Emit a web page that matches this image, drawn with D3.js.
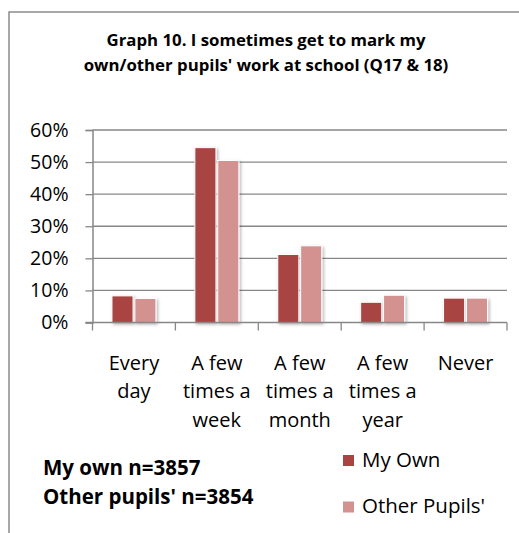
<!DOCTYPE html>
<html>
<head>
<meta charset="utf-8">
<script src="https://cdn.jsdelivr.net/npm/d3@7/dist/d3.min.js"></script>
<style>
  html, body { margin: 0; padding: 0; background: #fff; }
  svg { display: block; }
  text { font-family: "Open Sans", "Liberation Sans", sans-serif; fill: #000; }
</style>
</head>
<body>
<script>
// Survey responses: how often pupils mark their own / other pupils' work
const categories = [
  ["Every", "day"],
  ["A few", "times a", "week"],
  ["A few", "times a", "month"],
  ["A few", "times a", "year"],
  ["Never"]
];
const seriesNames = ["My Own", "Other Pupils'"];
const myOwn = [0.083, 0.545, 0.212, 0.063, 0.076];
const otherPupils = [0.075, 0.505, 0.239, 0.085, 0.076];
const yTicks = [0, 0.1, 0.2, 0.3, 0.4, 0.5, 0.6];
const titleLines = ["Graph 10. I sometimes get to mark my", "own/other pupils' work at school (Q17 & 18)"];
const notes = ["My own n=3857", "Other pupils' n=3854"];
const colors = ["#a84442", "#d39190"];

const W = 519, H = 533;
const plot = { left: 92.5, right: 507, top: 130, bottom: 322.5 };

const svg = d3.select("body").append("svg").attr("width", W).attr("height", H);

// soft drop shadow under the bars
const defs = svg.append("defs");
const f = defs.append("filter").attr("id", "shadow")
  .attr("x", "-30%").attr("y", "-10%").attr("width", "160%").attr("height", "130%");
f.append("feDropShadow").attr("dx", 1.5).attr("dy", 1.5).attr("stdDeviation", 1.5)
  .attr("flood-color", "#000").attr("flood-opacity", 0.3);

// chart frame
svg.append("rect").attr("x", 9).attr("y", 12).attr("width", W + 20).attr("height", H + 20)
  .attr("fill", "none").attr("stroke", "#8c8c8c").attr("stroke-width", 1.5);

// title
svg.append("g").selectAll("text").data(titleLines).join("text")
  .attr("x", 266).attr("y", (d, i) => 46 + i * 25)
  .attr("text-anchor", "middle").attr("font-weight", "bold").attr("font-size", 16.8)
  .text(d => d);

const x0 = d3.scaleBand().domain(d3.range(categories.length))
  .range([plot.left, plot.right]).paddingInner(0).paddingOuter(0);
const x1 = d3.scaleBand().domain(d3.range(seriesNames.length))
  .range([0, x0.bandwidth()]).paddingInner(0.08).paddingOuter(0.85);
const y = d3.scaleLinear().domain([0, 0.6]).range([plot.bottom, plot.top]);

// gridlines
svg.append("g").selectAll("line").data(yTicks.filter(d => d > 0)).join("line")
  .attr("x1", plot.left).attr("x2", plot.right)
  .attr("y1", d => y(d)).attr("y2", d => y(d))
  .attr("stroke", "#878787").attr("stroke-width", 1.3);

// y axis
const yAxis = svg.append("g").attr("transform", `translate(${plot.left},0)`)
  .call(d3.axisLeft(y).tickValues(yTicks).tickFormat(d3.format(".0%")).tickSize(7).tickPadding(17));
yAxis.select(".domain").attr("stroke", "#878787").attr("stroke-width", 1.5);
yAxis.selectAll(".tick line").attr("stroke", "#878787").attr("stroke-width", 1.3);
yAxis.selectAll(".tick text").attr("font-size", 19.5)
  .attr("font-family", "Open Sans, sans-serif").attr("fill", "#000");

// bars
const groups = svg.append("g").selectAll("g").data(categories).join("g")
  .attr("transform", (d, i) => `translate(${x0(i)},0)`);
groups.selectAll("rect").data((d, i) => [myOwn[i], otherPupils[i]]).join("rect")
  .attr("x", (d, j) => x1(j))
  .attr("width", x1.bandwidth())
  .attr("y", d => y(d))
  .attr("height", d => y(0) - y(d))
  .attr("fill", (d, j) => colors[j])
  .attr("stroke", "#fff").attr("stroke-width", 1)
  .attr("filter", "url(#shadow)");

// x axis
const xAxis = svg.append("g").attr("transform", `translate(0,${plot.bottom})`);
xAxis.append("line").attr("x1", plot.left - 7).attr("x2", plot.right)
  .attr("stroke", "#878787").attr("stroke-width", 1.5);
xAxis.selectAll(".xt").data(d3.range(categories.length + 1)).join("line")
  .attr("class", "xt")
  .attr("x1", i => i < categories.length ? x0(i) : plot.right)
  .attr("x2", i => i < categories.length ? x0(i) : plot.right)
  .attr("y1", 0).attr("y2", 8)
  .attr("stroke", "#878787").attr("stroke-width", 1.3);

// category labels
svg.append("g").selectAll("text").data(categories).join("text")
  .attr("x", (d, i) => x0(i) + x0.bandwidth() / 2)
  .attr("y", 370)
  .attr("text-anchor", "middle").attr("font-size", 20)
  .each(function(d) {
    d3.select(this).selectAll("tspan").data(d).join("tspan")
      .attr("x", d3.select(this).attr("x"))
      .attr("dy", (t, k) => k === 0 ? 0 : 28.3)
      .text(t => t);
  });

// sample-size notes
svg.append("g").selectAll("text").data(notes).join("text")
  .attr("x", 43).attr("y", (d, i) => 475 + i * 29)
  .attr("font-weight", "bold").attr("font-size", 20.5)
  .text(d => d);

// legend
const legend = svg.append("g").selectAll("g").data(seriesNames).join("g")
  .attr("transform", (d, i) => `translate(343,${455 + i * 46.5})`);
legend.append("rect").attr("width", 11).attr("height", 11)
  .attr("fill", (d, i) => colors[i]);
legend.append("text").attr("x", 19).attr("y", 11.5).attr("font-size", 20.5).text(d => d);
</script>
</body>
</html>
